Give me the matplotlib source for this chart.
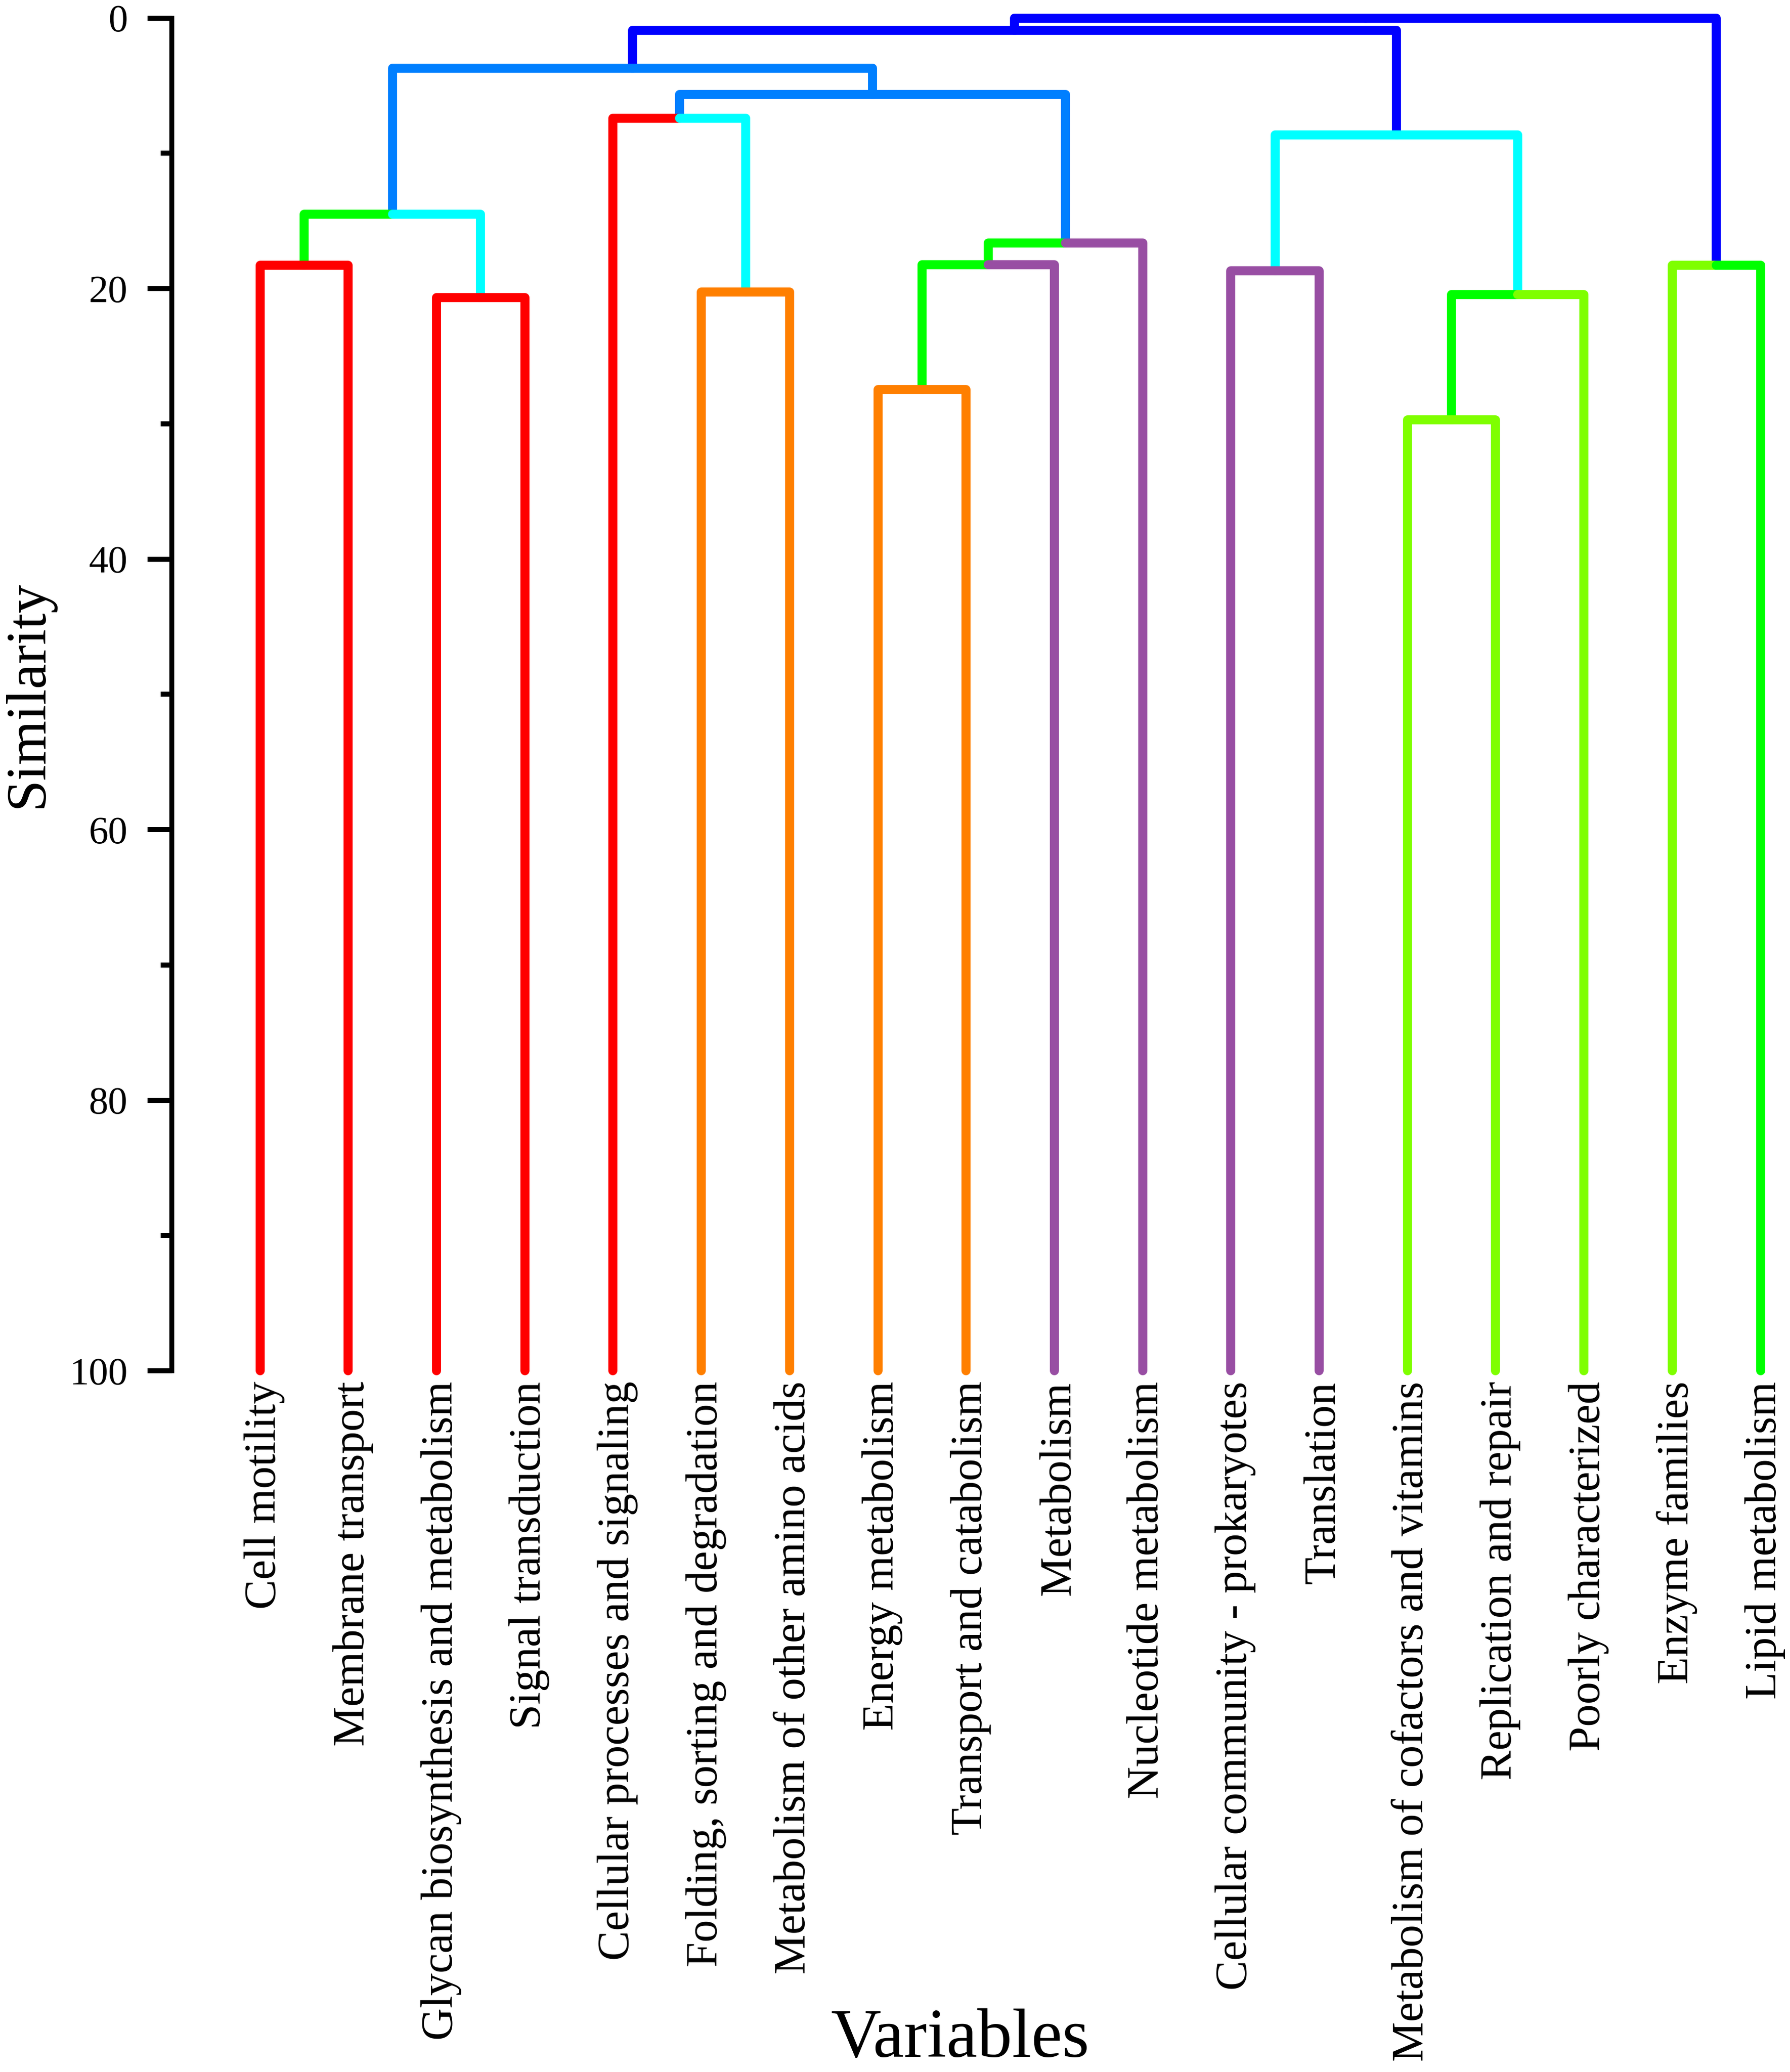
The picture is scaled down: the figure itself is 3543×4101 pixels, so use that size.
import matplotlib
matplotlib.use("Agg")
import matplotlib.pyplot as plt
import matplotlib.transforms as mtransforms
import numpy as np

plt.rcParams["font.family"] = ["Liberation Serif", "DejaVu Serif"]

# leaf order, left to right
leaves = [
    "Cell motility",
    "Membrane transport",
    "Glycan biosynthesis and metabolism",
    "Signal transduction",
    "Cellular processes and signaling",
    "Folding, sorting and degradation",
    "Metabolism of other amino acids",
    "Energy metabolism",
    "Transport and catabolism",
    "Metabolism",
    "Nucleotide metabolism",
    "Cellular community - prokaryotes",
    "Translation",
    "Metabolism of cofactors and vitamins",
    "Replication and repair",
    "Poorly characterized",
    "Enzyme families",
    "Lipid metabolism",
]

# merges: node 18 + i joins left_child and right_child at merge_height
left_child = [0, 2, 18, 5, 4, 7, 23, 24, 22, 20, 11, 13, 29, 28, 16, 27, 33]
right_child = [1, 3, 19, 6, 21, 8, 9, 10, 25, 26, 12, 14, 15, 30, 17, 31, 32]
merge_height = [18.26, 20.65, 14.5, 20.26, 7.42, 27.47, 18.24, 16.62, 5.64, 3.70,
                18.7, 29.7, 20.43, 8.64, 18.29, 0.9, 0.0]
left_color = ["red", "red", "green", "orange", "red", "orange", "green", "green", "dodger",
              "dodger", "purple", "chart", "green", "cyan", "chart", "blue", "blue"]
right_color = ["red", "red", "cyan", "orange", "cyan", "orange", "purple", "purple", "dodger",
               "dodger", "purple", "chart", "chart", "cyan", "green", "blue", "blue"]

palette = {
    "red": "#FF0000",
    "green": "#00FF00",
    "cyan": "#00FFFF",
    "orange": "#FF7F00",
    "purple": "#984EA3",
    "chart": "#7FFF00",
    "dodger": "#007FFF",
    "blue": "#0000FF",
}

leaf_level = 100.0
n_leaves = len(leaves)

node_x = list(np.arange(n_leaves, dtype=float))
node_h = [leaf_level] * n_leaves
for l, r, h in zip(left_child, right_child, merge_height):
    node_x.append((node_x[l] + node_x[r]) / 2)
    node_h.append(h)

fig = plt.figure(figsize=(3543 / 300, 4101 / 300), dpi=300)
ax = fig.add_axes([0.09596, 0.33845, 0.90234, 0.65284])

line_kw = dict(lw=4.3, solid_capstyle="round", solid_joinstyle="round", clip_on=False)
# parents first so child links sit on top at the joins
for k in reversed(range(len(merge_height))):
    p = n_leaves + k
    for child, cname in ((left_child[k], left_color[k]), (right_child[k], right_color[k])):
        ax.plot([node_x[child], node_x[child], node_x[p]],
                [node_h[child], node_h[p], node_h[p]],
                color=palette[cname], **line_kw)

ax.set_xlim(-1, 17.3)
ax.set_ylim(100, 0)

for side in ("top", "right", "bottom"):
    ax.spines[side].set_visible(False)
ax.spines["left"].set_linewidth(2.3)

ax.set_yticks(np.arange(0, 101, 20))
ax.set_yticks(np.arange(10, 100, 20), minor=True)
ax.tick_params(axis="y", which="major", length=11.5, width=2.4, labelsize=18.5, pad=9.5)
ax.tick_params(axis="y", which="minor", length=5.3, width=2.4)

ax.set_xticks(np.arange(n_leaves))
ax.set_xticklabels(leaves, rotation=90, fontsize=21.3)
ax.tick_params(axis="x", length=0, pad=5)
shift = mtransforms.ScaledTranslation(0.03, 0, fig.dpi_scale_trans)
for lab in ax.get_xticklabels():
    lab.set_transform(lab.get_transform() + shift)

ax.set_xlabel("Variables", fontsize=33, va="baseline")
ax.xaxis.set_label_coords(0.488, -0.5073)
ax.set_ylabel("Similarity", fontsize=27, va="baseline")
ax.yaxis.set_label_coords(-0.0801, 0.5)

fig.savefig("out.png", dpi=300)
